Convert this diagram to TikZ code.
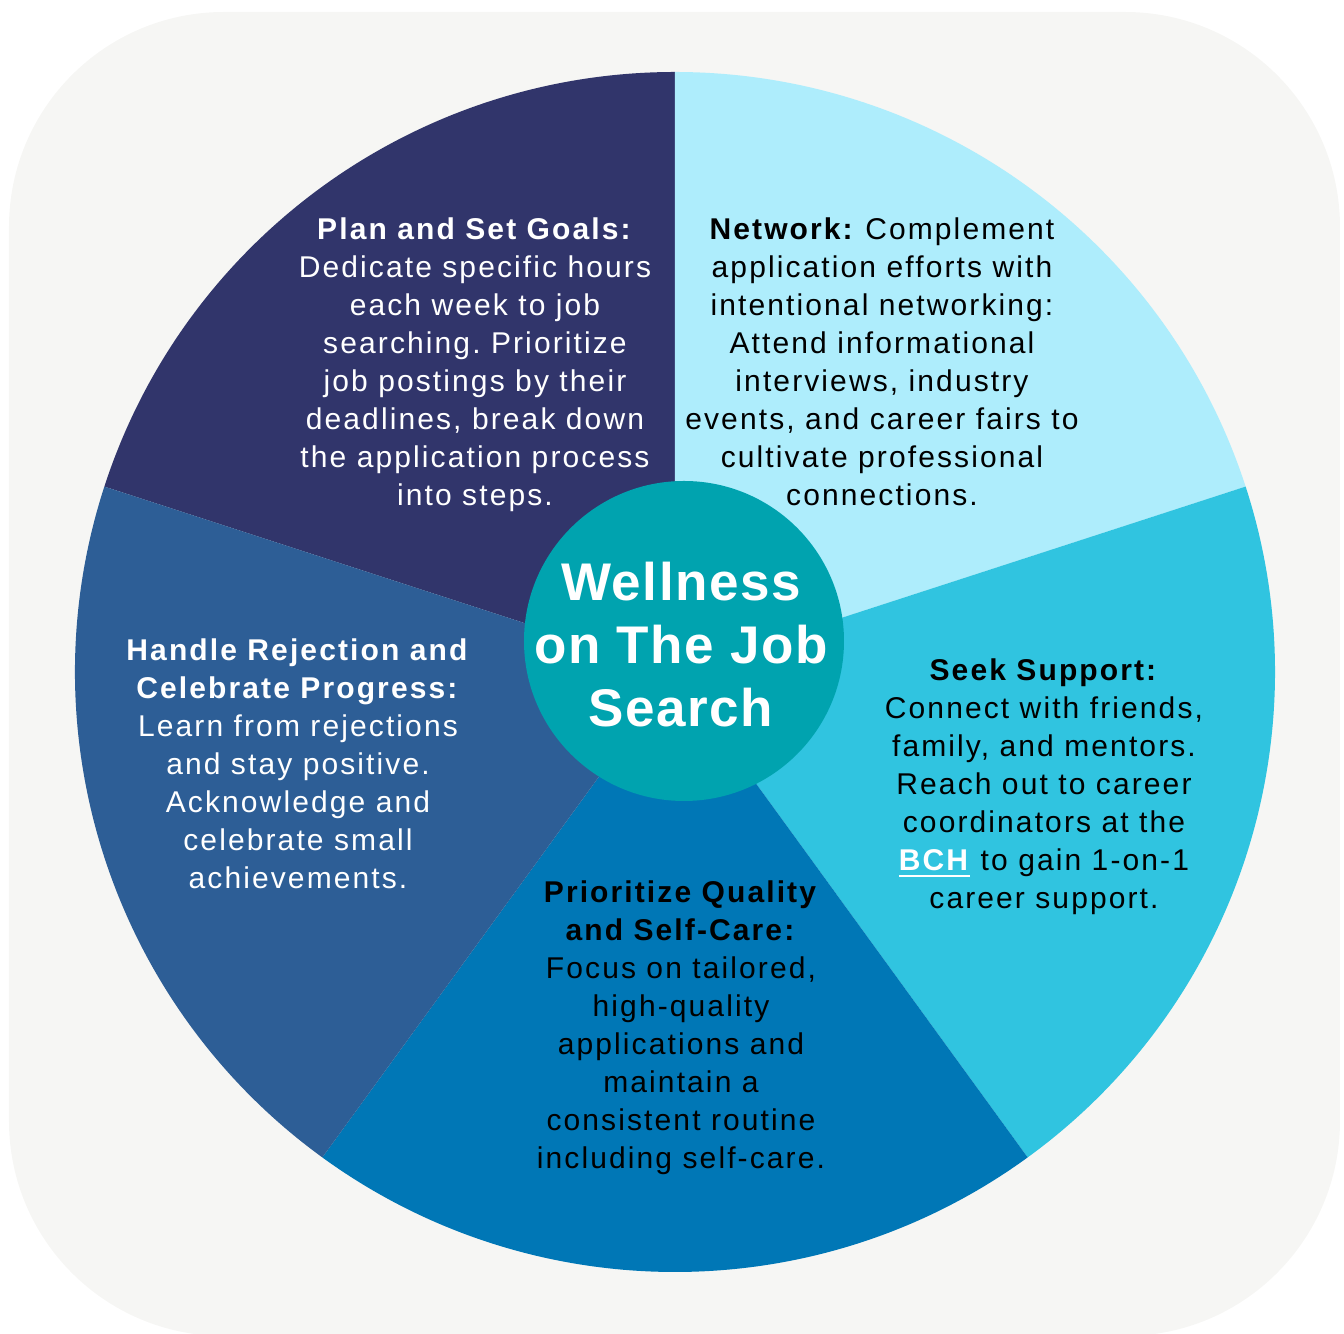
\documentclass[tikz,border=0pt]{standalone}
\usepackage{fontspec}
\setmainfont{Liberation Sans}[LetterSpace=7]
\newfontfamily\titlefont{Liberation Sans}[LetterSpace=3]
\usepackage{tikz}
\definecolor{paper}{HTML}{F6F6F4}
\definecolor{navy}{HTML}{31356B}
\definecolor{icecyan}{HTML}{AEEDFC}
\definecolor{skycyan}{HTML}{30C4E0}
\definecolor{oceanblue}{HTML}{0077B6}
\definecolor{steelblue}{HTML}{2D5E96}
\definecolor{hubteal}{HTML}{00A3AF}
\tikzset{
    blurb/.style={align=center, inner sep=0pt,
    	font=\fontsize{8.54pt}{10.81pt}\selectfont\frenchspacing},
    hub/.style={circle, fill=hubteal, minimum size=3.2cm, inner sep=0pt},
    hubtitle/.style={align=center, inner sep=0pt, text=white,
    	font=\titlefont\fontsize{15.08pt}{17.92pt}\selectfont\bfseries}
}

\begin{document}
\frenchspacing
\begin{tikzpicture}
  \useasboundingbox (-6.75cm, -6.62cm) rectangle (6.69cm, 6.72cm);
  \fill [paper, rounded corners=2.15cm] (-6.66cm, -6.64cm) rectangle (6.65cm, 6.60cm);

  \fill [navy] (0,0) -- (90:6cm) arc (90:162:6cm) -- cycle;
  \fill [icecyan] (0,0) -- (18:6cm) arc (18:90:6cm) -- cycle;
  \fill [skycyan] (0,0) -- (-54:6cm) arc (-54:18:6cm) -- cycle;
  \fill [oceanblue] (0,0) -- (-126:6cm) arc (-126:-54:6cm) -- cycle;
  \fill [steelblue] (0,0) -- (162:6cm) arc (162:234:6cm) -- cycle;

  \node (hub) [hub] at (0.09cm, 0.31cm) {};
  \node (title) [hubtitle] at (0.06cm, 0.27cm) {Wellness\\on The Job\\Search};

  \node (goals) [blurb, text=white] at (-2.00cm, 3.07cm)
    {\textbf{Plan and Set Goals:}\\Dedicate specific hours\\each week to job\\searching. Prioritize\\job postings by their\\deadlines, break down\\the application process\\into steps.};
  \node (network) [blurb] at (2.07cm, 3.10cm)
    {\textbf{Network:} Complement\\application efforts with\\intentional networking:\\Attend informational\\interviews, industry\\events, and career fairs to\\cultivate professional\\connections.};
  \node (support) [blurb] at (3.69cm, -1.15cm)
    {\textbf{Seek Support:}\\Connect with friends,\\family, and mentors.\\Reach out to career\\coordinators at the\\{\color{white}\underline{\textbf{BCH}}} to gain 1-on-1\\career support.};
  \node (quality) [blurb] at (0.06cm, -3.56cm)
    {\textbf{Prioritize Quality}\\\textbf{and Self-Care:}\\Focus on tailored,\\high-quality\\applications and\\maintain a\\consistent routine\\including self-care.};
  \node (rejection) [blurb, text=white] at (-3.77cm, -0.92cm)
    {\textbf{Handle Rejection and}\\\textbf{Celebrate Progress:}\\Learn from rejections\\and stay positive.\\Acknowledge and\\celebrate small\\achievements.};
\end{tikzpicture}
\end{document}
